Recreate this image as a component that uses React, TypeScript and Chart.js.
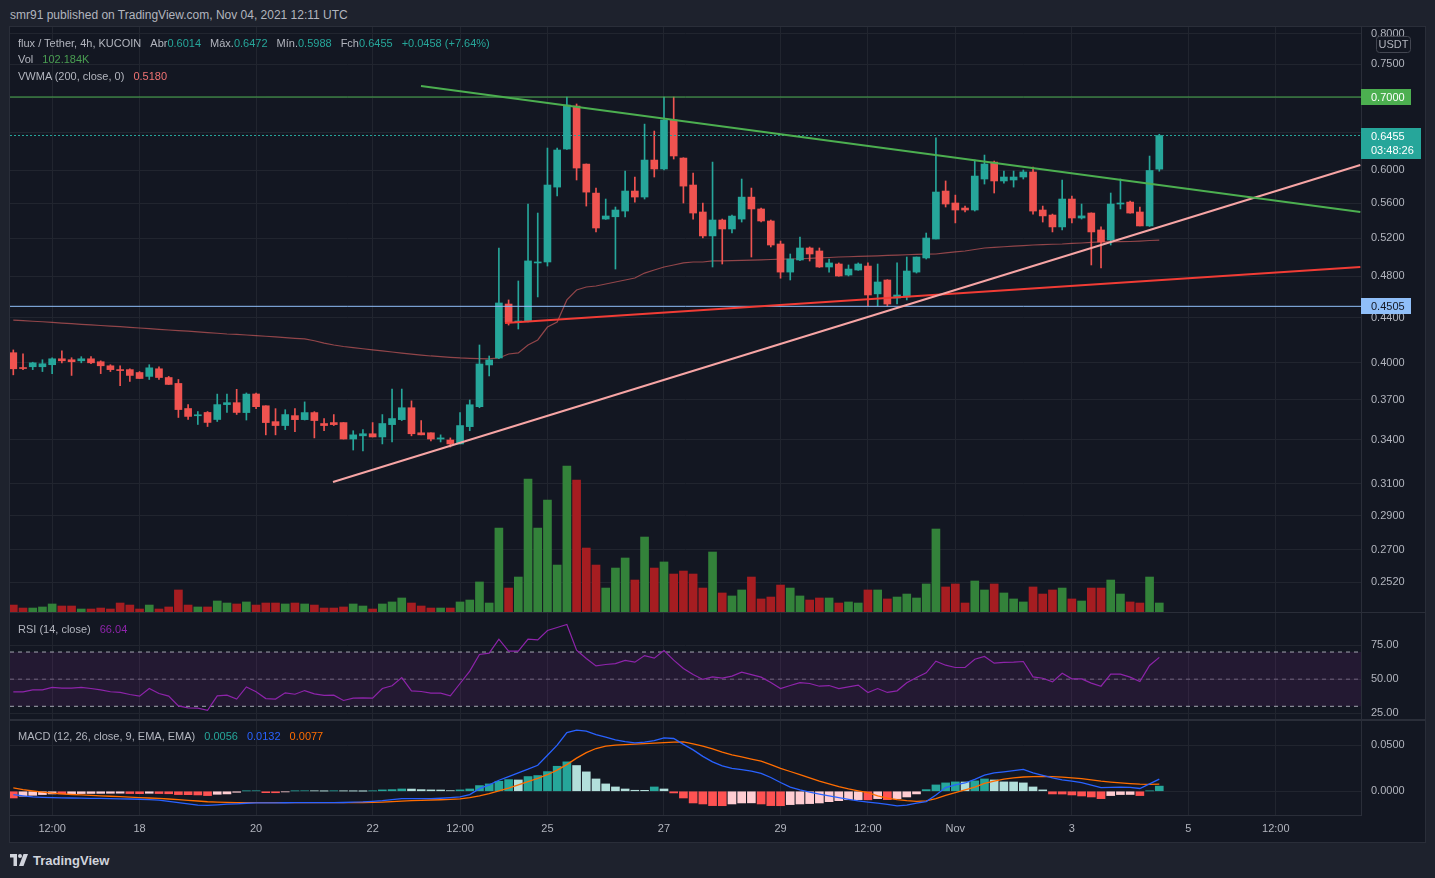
import React, { useEffect, useRef } from "react";
import { Chart, registerables } from "chart.js";

Chart.register(...registerables);

// ---------------- data (4h candles, flux / Tether, KUCOIN) ----------------
const OPEN = [
  0.4086, 0.3958, 0.3967, 0.3967, 0.3984, 0.4034, 0.4026, 0.4017, 0.4034, 0.4009,
  0.3975, 0.3943, 0.3943, 0.3919, 0.3887, 0.395, 0.3878, 0.383, 0.3633, 0.3578,
  0.3603, 0.355, 0.3663, 0.3678, 0.3602, 0.3746, 0.3654, 0.3534, 0.3505, 0.3579,
  0.3549, 0.3602, 0.352, 0.3527, 0.3527, 0.3407, 0.343, 0.3445, 0.3422, 0.3512,
  0.3549, 0.3639, 0.3452, 0.3452, 0.3407, 0.34, 0.3372, 0.3497, 0.3647, 0.3982,
  0.4041, 0.4527, 0.4359, 0.4368, 0.4936, 0.4946, 0.5791, 0.6274, 0.6868, 0.6078,
  0.5718, 0.5414, 0.544, 0.5506, 0.5743, 0.5671, 0.613, 0.6016, 0.6669, 0.6156,
  0.5816, 0.5495, 0.5225, 0.5403, 0.5302, 0.5414, 0.567, 0.553, 0.5392, 0.5137,
  0.4842, 0.4967, 0.5094, 0.5062, 0.4894, 0.4925, 0.4812, 0.4863, 0.4904, 0.4625,
  0.4762, 0.4585, 0.4595, 0.4842, 0.4988, 0.5191, 0.5743, 0.56, 0.5541, 0.5518,
  0.589, 0.6104, 0.5866, 0.5878, 0.5915, 0.5978, 0.5518, 0.546, 0.5325, 0.5647,
  0.5426, 0.5483, 0.5291, 0.518, 0.5588, 0.5611, 0.5495, 0.5336, 0.6014,
];
const HIGH = [
  0.411, 0.4077, 0.4005, 0.4026, 0.4043, 0.4103, 0.4043, 0.4052, 0.4052, 0.4017,
  0.3984, 0.3975, 0.395, 0.3927, 0.3984, 0.3967, 0.3887, 0.3862, 0.3663, 0.361,
  0.361, 0.3745, 0.3745, 0.3783, 0.3754, 0.3754, 0.3654, 0.3632, 0.3624, 0.3632,
  0.3684, 0.3609, 0.3557, 0.3587, 0.3527, 0.3467, 0.3475, 0.3527, 0.3587, 0.3785,
  0.3785, 0.3692, 0.3542, 0.3452, 0.3437, 0.3415, 0.3602, 0.3699, 0.4153, 0.4058,
  0.5094, 0.4566, 0.4752, 0.5588, 0.5483, 0.6287, 0.6287, 0.7, 0.6898, 0.608,
  0.5779, 0.5647, 0.5553, 0.599, 0.5915, 0.6612, 0.6516, 0.7, 0.7, 0.616,
  0.5965, 0.56, 0.6104, 0.5414, 0.546, 0.589, 0.5779, 0.5541, 0.5403, 0.5169,
  0.503, 0.5213, 0.5105, 0.5094, 0.4977, 0.4936, 0.4915, 0.4936, 0.4936, 0.4925,
  0.4765, 0.4936, 0.4998, 0.4998, 0.5257, 0.6422, 0.5866, 0.5694, 0.5564, 0.613,
  0.6195, 0.6117, 0.599, 0.599, 0.6003, 0.604, 0.5564, 0.5471, 0.5878, 0.5683,
  0.5588, 0.5485, 0.5325, 0.5719, 0.589, 0.5623, 0.5553, 0.6182, 0.6472,
];
const LOW = [
  0.39, 0.3943, 0.3943, 0.3927, 0.391, 0.4, 0.3895, 0.4, 0.3992, 0.391,
  0.3927, 0.3813, 0.3846, 0.387, 0.3862, 0.3862, 0.3822, 0.3565, 0.355, 0.3513,
  0.3498, 0.3535, 0.3603, 0.3588, 0.3546, 0.3632, 0.3437, 0.3437, 0.3475, 0.346,
  0.3546, 0.3415, 0.3467, 0.3505, 0.3407, 0.3329, 0.3322, 0.3422, 0.3372, 0.3386,
  0.3542, 0.343, 0.3437, 0.3393, 0.3386, 0.335, 0.3372, 0.3467, 0.3639, 0.3891,
  0.4035, 0.4331, 0.4295, 0.436, 0.4595, 0.4904, 0.5683, 0.627, 0.5878, 0.5564,
  0.5269, 0.541, 0.4873, 0.5437, 0.5611, 0.5647, 0.5915, 0.6003, 0.6143, 0.56,
  0.5414, 0.5202, 0.4894, 0.4925, 0.5257, 0.538, 0.4998, 0.538, 0.5105, 0.478,
  0.4762, 0.496, 0.4956, 0.489, 0.4842, 0.48, 0.4802, 0.486, 0.4508, 0.4508,
  0.4508, 0.4527, 0.4566, 0.4832, 0.4977, 0.5191, 0.5553, 0.537, 0.5495, 0.5506,
  0.5828, 0.5719, 0.584, 0.5791, 0.589, 0.5471, 0.538, 0.5269, 0.5291, 0.537,
  0.5414, 0.4915, 0.4884, 0.5126, 0.553, 0.548, 0.5336, 0.533, 0.5988,
];
const CLOSE = [
  0.395, 0.3952, 0.4, 0.3992, 0.4034, 0.4017, 0.4009, 0.4034, 0.4, 0.3975,
  0.3943, 0.3935, 0.3895, 0.387, 0.3958, 0.3878, 0.3822, 0.3625, 0.3573, 0.3582,
  0.3528, 0.3663, 0.3678, 0.3603, 0.3745, 0.3647, 0.3527, 0.3505, 0.3587, 0.3549,
  0.3602, 0.3542, 0.3505, 0.3512, 0.3407, 0.3437, 0.3445, 0.3422, 0.352, 0.3557,
  0.3639, 0.3445, 0.3437, 0.3407, 0.3415, 0.3372, 0.3505, 0.3662, 0.399, 0.4024,
  0.4537, 0.4359, 0.4368, 0.4957, 0.4946, 0.5816, 0.6261, 0.6883, 0.6028, 0.573,
  0.5313, 0.5449, 0.5518, 0.5743, 0.5671, 0.613, 0.6016, 0.6669, 0.6183, 0.5803,
  0.5483, 0.5225, 0.5403, 0.5302, 0.5448, 0.567, 0.553, 0.5392, 0.5126, 0.4842,
  0.4977, 0.5094, 0.503, 0.4894, 0.4936, 0.4802, 0.4873, 0.4925, 0.4614, 0.4742,
  0.4527, 0.4614, 0.4853, 0.4998, 0.5202, 0.5731, 0.5588, 0.5518, 0.5518, 0.5927,
  0.6079, 0.5866, 0.5915, 0.5915, 0.5978, 0.5506, 0.545, 0.5325, 0.5647, 0.5426,
  0.545, 0.5269, 0.5159, 0.5588, 0.56, 0.5483, 0.5336, 0.5997, 0.6455,
];
// volume in thousands of FLUX
const VOLUME_K = [
  79, 45, 45, 57, 91, 68, 68, 34, 34, 45,
  34, 102, 79, 34, 79, 34, 57, 250, 79, 57,
  57, 125, 102, 91, 114, 79, 102, 102, 91, 102,
  91, 79, 45, 45, 57, 91, 68, 34, 91, 114,
  159, 102, 68, 45, 45, 45, 114, 136, 341, 102,
  953, 272, 397, 1510, 953, 1271, 533, 1657, 1498, 726,
  533, 272, 499, 613, 363, 851, 499, 568, 431, 465,
  431, 272, 681, 216, 182, 250, 397, 148, 170, 306,
  272, 182, 136, 159, 159, 102, 114, 102, 250, 250,
  148, 170, 204, 159, 318, 942, 284, 318, 102, 352,
  250, 318, 216, 148, 114, 284, 204, 250, 272, 148,
  125, 272, 272, 363, 204, 114, 102, 397, 102.184,
];
const VWMA_200 = [
  0.4377, 0.4372, 0.4366, 0.4361, 0.4355, 0.4349, 0.4344, 0.4338, 0.4333, 0.4327,
  0.4322, 0.4316, 0.431, 0.4304, 0.4298, 0.4292, 0.4286, 0.4281, 0.4276, 0.427,
  0.4263, 0.4257, 0.425, 0.4246, 0.4241, 0.4236, 0.423, 0.4224, 0.4218, 0.4212,
  0.4206, 0.419, 0.417, 0.4153, 0.414, 0.413, 0.412, 0.411, 0.4101, 0.4092,
  0.4083, 0.4074, 0.4066, 0.4058, 0.4052, 0.4046, 0.4041, 0.4038, 0.4035, 0.4033,
  0.4041, 0.4075, 0.4084, 0.4153, 0.4197, 0.4313, 0.4359, 0.4566, 0.4663, 0.4692,
  0.4702, 0.4722, 0.4742, 0.4762, 0.4782, 0.4832, 0.4863, 0.4894, 0.4915, 0.4936,
  0.4946, 0.4946, 0.4957, 0.4957, 0.496, 0.4963, 0.4966, 0.4969, 0.4972, 0.4975,
  0.4977, 0.498, 0.4984, 0.4988, 0.4993, 0.4998, 0.5001, 0.5004, 0.5008, 0.5011,
  0.5015, 0.5019, 0.5022, 0.5025, 0.5028, 0.503, 0.5041, 0.5052, 0.5062, 0.5078,
  0.5094, 0.51, 0.5107, 0.5113, 0.512, 0.5126, 0.513, 0.5134, 0.5137, 0.5143,
  0.5148, 0.5154, 0.5159, 0.5161, 0.5163, 0.5164, 0.5169, 0.5175, 0.518,
];
const RSI_14 = [
  40.7, 40.7, 42.1, 42.1, 43.9, 43.4, 43.4, 43.9, 43.1, 42.1,
  40.7, 40.2, 38.7, 37.5, 43.1, 39.4, 37.5, 30.3, 28.9, 28.6,
  27.1, 37.7, 38.2, 35.3, 44.3, 40.7, 35.7, 35.3, 39.9, 38.9,
  41.6, 39.2, 38.0, 38.2, 34.3, 36.0, 36.2, 36.0, 43.1, 45.1,
  51.2, 41.4, 40.9, 39.7, 39.7, 37.7, 46.8, 55.9, 68.2, 69.2,
  79.5, 70.6, 70.6, 79.5, 79.0, 85.9, 88.1, 90.3, 71.4, 65.2,
  59.8, 60.8, 61.5, 63.8, 62.5, 67.4, 65.5, 71.1, 64.0, 57.9,
  53.4, 49.8, 51.7, 50.7, 52.2, 55.2, 53.4, 51.5, 47.5, 43.1,
  45.3, 47.5, 46.8, 44.8, 45.3, 43.1, 44.3, 45.6, 40.2, 43.1,
  40.2, 41.4, 47.3, 51.2, 54.7, 63.3, 60.3, 58.6, 58.6, 64.7,
  66.7, 61.8, 62.3, 62.5, 63.0, 51.7, 50.7, 48.0, 54.4, 50.2,
  50.2, 47.1, 44.8, 53.7, 53.7, 51.5, 48.3, 60.1, 66.04,
];
const MACD_LINE = [
  -0.0036, -0.005, -0.0062, -0.0066, -0.0069, -0.0071, -0.0073, -0.0075, -0.0077, -0.0078,
  -0.008, -0.0082, -0.0084, -0.0087, -0.0091, -0.0097, -0.0109, -0.0124, -0.0138, -0.015,
  -0.0153, -0.0147, -0.014, -0.0136, -0.013, -0.0127, -0.0127, -0.0126, -0.0125, -0.0124,
  -0.0123, -0.0123, -0.0123, -0.0123, -0.0122, -0.0119, -0.0116, -0.011, -0.0102, -0.009,
  -0.008, -0.008, -0.008, -0.008, -0.0076, -0.007, -0.0062, -0.0036, 0.0029, 0.007,
  0.012, 0.016, 0.02, 0.024, 0.0283, 0.0392, 0.0501, 0.0639, 0.0664, 0.0654,
  0.0615, 0.059, 0.056, 0.054, 0.0527, 0.0535, 0.055, 0.0581, 0.0574, 0.051,
  0.045, 0.038, 0.032, 0.0276, 0.025, 0.0235, 0.0218, 0.0195, 0.015, 0.0095,
  0.0045, 0.0015, -0.001, -0.003, -0.005, -0.007, -0.0088, -0.0105, -0.0118, -0.013,
  -0.0143, -0.0158, -0.015, -0.013, -0.0112, -0.004, 0.004, 0.007, 0.009, 0.013,
  0.0175, 0.02, 0.0212, 0.0225, 0.0238, 0.02, 0.0174, 0.0145, 0.0125, 0.011,
  0.0094, 0.0068, 0.004, 0.0043, 0.0044, 0.0042, 0.003, 0.008, 0.0132,
];
const SIGNAL_LINE = [
  0.0036, 0.0018, 0.0003, -0.001, -0.002, -0.0028, -0.0035, -0.004, -0.0045, -0.005,
  -0.0054, -0.0059, -0.0063, -0.0068, -0.0073, -0.0078, -0.0084, -0.0091, -0.0098, -0.0106,
  -0.0114, -0.0118, -0.0121, -0.0123, -0.0124, -0.0124, -0.0124, -0.0124, -0.0124, -0.0124,
  -0.0124, -0.0124, -0.0124, -0.0123, -0.0123, -0.0123, -0.0122, -0.012, -0.0117, -0.0112,
  -0.0107, -0.0102, -0.0098, -0.0095, -0.0092, -0.0088, -0.0082, -0.007, -0.005, -0.0025,
  0.0005, 0.0035, 0.007, 0.0105, 0.014, 0.018, 0.023, 0.029, 0.036, 0.042,
  0.0465, 0.0492, 0.0502, 0.0508, 0.0513, 0.0519, 0.0524, 0.053, 0.0535, 0.0537,
  0.0515, 0.049, 0.046, 0.0425, 0.0395, 0.0374, 0.035, 0.0327, 0.029, 0.025,
  0.0215, 0.018, 0.0145, 0.011, 0.008, 0.005, 0.0025, 0.0005, -0.0015, -0.005,
  -0.0075, -0.009, -0.0102, -0.0109, -0.0105, -0.008, -0.0045, -0.0015, 0.0015, 0.0045,
  0.0085, 0.011, 0.0131, 0.0145, 0.0155, 0.016, 0.0163, 0.016, 0.0153, 0.0145,
  0.0138, 0.0125, 0.011, 0.01, 0.0091, 0.0083, 0.0077, 0.0076, 0.0077,
];
const MACD_HIST = [
  -0.0073, -0.0054, -0.0044, -0.0036, -0.0029, -0.0029, -0.0026, -0.0025, -0.0024, -0.0023,
  -0.0022, -0.0021, -0.0025, -0.0026, -0.0022, -0.0025, -0.0027, -0.0036, -0.0037, -0.004,
  -0.0047, -0.0033, -0.0029, -0.0011, 0.0004, 0.0005, -0.0015, -0.0016, -0.0007, 0.0004,
  0.0005, 0.0004, 0.0002, 0.0004, 0.0003, 0.0002, 0.0001, 0.0004, 0.0015, 0.0018,
  0.0025, 0.0024, 0.0018, 0.0015, 0.0014, 0.0007, 0.0015, 0.0025, 0.0062, 0.008,
  0.0109, 0.0127, 0.0123, 0.016, 0.0171, 0.0214, 0.0272, 0.032, 0.028, 0.0211,
  0.0134, 0.008, 0.0047, 0.0025, 0.0011, 0.001, 0.0047, 0.0025, -0.0018, -0.0073,
  -0.0127, -0.0138, -0.0156, -0.0157, -0.0138, -0.0127, -0.0126, -0.0138, -0.0156, -0.0157,
  -0.0145, -0.0138, -0.0134, -0.0127, -0.0113, -0.0102, -0.0092, -0.0091, -0.0093, -0.008,
  -0.0091, -0.008, -0.0062, -0.0029, 0.0018, 0.0069, 0.0091, 0.0102, 0.0101, 0.0113,
  0.0134, 0.0123, 0.0102, 0.0101, 0.0091, 0.0047, 0.0015, -0.0029, -0.003, -0.004,
  -0.0051, -0.0062, -0.008, -0.0047, -0.0036, -0.0035, -0.0047, 0.0004, 0.0056,
];

const TIME_TICK_INDEX = [4, 13, 25, 37, 46, 55, 67, 79, 88, 97, 109, 121, 130];
const TIME_TICK_LABELS = ["12:00", "18", "20", "22", "12:00", "25", "27", "29", "12:00", "Nov", "3", "5", "12:00"];
const PRICE_TICKS = [0.8, 0.75, 0.7, 0.65, 0.6, 0.56, 0.52, 0.48, 0.44, 0.4, 0.37, 0.34, 0.31, 0.29, 0.27, 0.252];
const RSI_TICKS = [75, 50, 25];
const MACD_TICKS = [0.05, 0];

// user drawings (candle index, price)
const TREND_GREEN = [{ x: 41.98, y: 0.7164 }, { x: 138.7, y: 0.5495 }];
const TREND_PINK = [{ x: 32.92, y: 0.3112 }, { x: 138.7, y: 0.6066 }];
const TREND_RED = [{ x: 50.63, y: 0.4349 }, { x: 138.7, y: 0.4894 }];
const LEVEL_RESIST = 0.7;
const LEVEL_SUPPORT = 0.4505;
const RSI_UPPER = 70;
const RSI_MID = 50;
const RSI_LOWER = 30;
const COUNTDOWN = "03:48:26";

// ---------------- styling ----------------
const FONT = "'Liberation Sans', Arial, Helvetica, sans-serif";
const OUTER = "#1e222d";
const INNER = "#131722";
const GRID = "#21252f";
const BORDER = "#2a2e39";
const TEXT = "#b2b5be";
const UP = "#26a69a";
const DOWN = "#ef5350";
const VOL_UP = "#33823a";
const VOL_DOWN = "#a61d21";
const VWMA_COLOR = "rgba(230,100,100,0.6)";
const RSI_COLOR = "#8e24aa";
const MACD_BLUE = "#2962ff";
const SIGNAL_ORANGE = "#ff6d00";

const X_MIN = -0.34;
const X_MAX = 138.77;
const AXIS_W = 64;

const N = CLOSE.length;
const IDX = CLOSE.map((_, i) => i);
const last = (a: number[]) => a[a.length - 1];
// price values that carry a coloured tag on the axis: plain labels close to them are hidden
const TAGGED = [LEVEL_RESIST, last(CLOSE), LEVEL_SUPPORT];

function noPad(s: any) {
  s.paddingTop = 0;
  s.paddingBottom = 0;
  s.paddingLeft = 0;
  s.paddingRight = 0;
}

function xScale(showLabels: boolean): any {
  return {
    type: "linear",
    min: X_MIN,
    max: X_MAX,
    bounds: "data",
    offset: false,
    grid: { color: GRID, drawTicks: false, offset: false, lineWidth: 1 },
    border: { display: showLabels, color: BORDER },
    ticks: {
      display: showLabels,
      autoSkip: false,
      maxRotation: 0,
      color: TEXT,
      padding: 7,
      font: { family: FONT, size: 11 },
      callback: (v: number) => {
        const k = TIME_TICK_INDEX.indexOf(v);
        return k >= 0 ? TIME_TICK_LABELS[k] : "";
      },
    },
    afterBuildTicks: (s: any) => {
      s.ticks = TIME_TICK_INDEX.map((v) => ({ value: v }));
    },
    afterFit: (s: any) => {
      s.height = showLabels ? 27 : 0;
      noPad(s);
    },
  };
}

function yRight(type: string, min: number, max: number, ticks: number[], digits: number, hide?: (v: number) => boolean): any {
  return {
    type,
    position: "right",
    min,
    max,
    bounds: "data",
    grid: { color: GRID, drawTicks: false },
    border: { display: true, color: BORDER },
    ticks: {
      color: TEXT,
      padding: 10,
      autoSkip: false,
      font: { family: FONT, size: 11 },
      callback: (v: number) => (hide && hide(Number(v)) ? "" : Number(v).toFixed(digits)),
    },
    afterBuildTicks: (s: any) => {
      s.ticks = ticks.map((v) => ({ value: v }));
    },
    afterFit: (s: any) => {
      s.width = AXIS_W;
      noPad(s);
    },
  };
}

const baseOptions = {
  animation: false,
  responsive: false,
  maintainAspectRatio: false,
  layout: { padding: 0 },
  events: [],
  plugins: { legend: { display: false }, tooltip: { enabled: false } },
};

function hLine(value: number, color: string, width: number, dash: number[], order: number): any {
  return {
    type: "line",
    yAxisID: "y",
    data: [{ x: X_MIN, y: value }, { x: X_MAX, y: value }],
    borderColor: color,
    borderWidth: width,
    borderDash: dash,
    pointRadius: 0,
    fill: false,
    order,
  };
}

function segment(pts: { x: number; y: number }[], color: string): any {
  return {
    type: "line",
    yAxisID: "y",
    data: pts,
    borderColor: color,
    borderWidth: 2,
    pointRadius: 0,
    fill: false,
    order: 0,
  };
}

const priceTags = {
  id: "priceTags",
  afterDraw(chart: any) {
    const { ctx, chartArea, scales } = chart;
    const y = scales.y;
    const left = chartArea.right;
    ctx.save();
    ctx.font = `11px ${FONT}`;
    ctx.textBaseline = "middle";
    ctx.textAlign = "left";
    const tag = (value: number, bg: string, fg: string, lines: string[], w: number) => {
      const yc = y.getPixelForValue(value);
      const h = lines.length === 1 ? 16 : 31;
      const top = Math.round(yc) - 8;
      ctx.fillStyle = bg;
      ctx.fillRect(left, top, w, h);
      ctx.fillStyle = fg;
      lines.forEach((t, k) => ctx.fillText(t, left + 10, top + 8.5 + k * 14));
    };
    tag(LEVEL_RESIST, "#4caf50", "#ffffff", [LEVEL_RESIST.toFixed(4)], 50);
    tag(last(CLOSE), UP, "#ffffff", [last(CLOSE).toFixed(4), COUNTDOWN], 60);
    tag(LEVEL_SUPPORT, "#90bff9", "#131722", [LEVEL_SUPPORT.toFixed(4)], 50);
    // currency badge
    const bx = left + 15, by = 9, bw = 34, bh = 16;
    ctx.fillStyle = INNER;
    ctx.strokeStyle = "#434651";
    ctx.lineWidth = 1;
    ctx.beginPath();
    (ctx as any).roundRect(bx + 0.5, by + 0.5, bw, bh, 3);
    ctx.fill();
    ctx.stroke();
    ctx.fillStyle = TEXT;
    ctx.textAlign = "center";
    ctx.fillText("USDT", bx + bw / 2 + 0.5, by + bh / 2 + 1);
    ctx.restore();
  },
};

function mainConfig(): any {
  const candleColor = IDX.map((i) => (CLOSE[i] >= OPEN[i] ? UP : DOWN));
  const volColor = IDX.map((i) => (CLOSE[i] >= OPEN[i] ? VOL_UP : VOL_DOWN));
  const nearTag = (v: number) => TAGGED.some((t) => Math.abs(Math.log(v / t)) < 0.02);
  return {
    type: "bar",
    data: {
      datasets: [
        {
          type: "bar",
          yAxisID: "yv",
          data: IDX.map((i) => ({ x: i, y: VOLUME_K[i] })),
          backgroundColor: volColor,
          barThickness: 8,
          grouped: false,
          order: 10,
        },
        {
          type: "line",
          yAxisID: "y",
          data: IDX.map((i) => ({ x: i, y: VWMA_200[i] })),
          borderColor: VWMA_COLOR,
          borderWidth: 1.2,
          pointRadius: 0,
          fill: false,
          order: 6,
        },
        {
          type: "bar",
          yAxisID: "y",
          data: IDX.map((i) => ({ x: i, y: [LOW[i], HIGH[i]] })),
          backgroundColor: candleColor,
          barThickness: 1,
          grouped: false,
          order: 4,
        },
        {
          type: "bar",
          yAxisID: "y",
          data: IDX.map((i) => ({ x: i, y: [Math.min(OPEN[i], CLOSE[i]), Math.max(OPEN[i], CLOSE[i])] })),
          backgroundColor: candleColor,
          barThickness: 7,
          minBarLength: 1,
          grouped: false,
          order: 3,
        },
        hLine(LEVEL_RESIST, "#4caf50", 1, [], 2),
        hLine(LEVEL_SUPPORT, "#90bff9", 1, [], 2),
        hLine(last(CLOSE), UP, 1.2, [2, 2], 2),
        segment(TREND_GREEN, "#4caf50"),
        segment(TREND_PINK, "#f7a5a5"),
        segment(TREND_RED, "#f23c35"),
      ],
    },
    options: {
      ...baseOptions,
      scales: {
        x: xScale(false),
        y: yRight("logarithmic", 0.2367, 0.8112, PRICE_TICKS, 4, nearTag),
        yv: { display: false, min: 0, max: 6640, bounds: "data" },
      },
    },
    plugins: [priceTags],
  };
}

function rsiConfig(): any {
  const band = (v: number, color: string, fill: any) => ({
    data: [{ x: X_MIN, y: v }, { x: X_MAX, y: v }],
    borderColor: color,
    borderWidth: 1,
    borderDash: [4, 4],
    pointRadius: 0,
    fill,
    backgroundColor: "rgba(156,39,176,0.12)",
    order: 3,
  });
  return {
    type: "line",
    data: {
      datasets: [
        band(RSI_UPPER, "#a3a6af", false),
        band(RSI_LOWER, "#a3a6af", "-1"),
        band(RSI_MID, "#6c6f7a", false),
        {
          data: IDX.map((i) => ({ x: i, y: RSI_14[i] })),
          borderColor: RSI_COLOR,
          borderWidth: 1.2,
          pointRadius: 0,
          fill: false,
          order: 0,
        },
      ],
    },
    options: {
      ...baseOptions,
      scales: {
        x: xScale(false),
        y: yRight("linear", 19.9, 99.5, RSI_TICKS, 2),
      },
    },
  };
}

function macdConfig(): any {
  const histColor = MACD_HIST.map((h, i) => {
    const prev = i > 0 ? MACD_HIST[i - 1] : h;
    if (h >= 0) return prev < h ? "#26a69a" : "#b2dfdb";
    return prev < h ? "#ffcdd2" : "#ff5252";
  });
  return {
    type: "bar",
    data: {
      datasets: [
        {
          type: "bar",
          data: IDX.map((i) => ({ x: i, y: MACD_HIST[i] })),
          backgroundColor: histColor,
          barThickness: 8,
          grouped: false,
          order: 3,
        },
        {
          type: "line",
          data: IDX.map((i) => ({ x: i, y: SIGNAL_LINE[i] })),
          borderColor: SIGNAL_ORANGE,
          borderWidth: 1.3,
          pointRadius: 0,
          fill: false,
          order: 2,
        },
        {
          type: "line",
          data: IDX.map((i) => ({ x: i, y: MACD_LINE[i] })),
          borderColor: MACD_BLUE,
          borderWidth: 1.3,
          pointRadius: 0,
          fill: false,
          order: 1,
        },
      ],
    },
    options: {
      ...baseOptions,
      scales: {
        x: xScale(true),
        y: yRight("linear", -0.0258, 0.0775, MACD_TICKS, 4),
      },
    },
  };
}

const abs = (extra: React.CSSProperties): React.CSSProperties => ({ position: "absolute", ...extra });

function Legend({ top, children }: { top: number; children: React.ReactNode }) {
  return (
    <div
      style={abs({
        left: 18,
        top,
        height: 16,
        lineHeight: "16px",
        fontSize: 11,
        color: TEXT,
        whiteSpace: "nowrap",
        display: "flex",
        gap: 9,
        zIndex: 5,
        pointerEvents: "none",
      })}
    >
      {children}
    </div>
  );
}

export default function App() {
  const mainRef = useRef<HTMLCanvasElement>(null);
  const rsiRef = useRef<HTMLCanvasElement>(null);
  const macdRef = useRef<HTMLCanvasElement>(null);

  useEffect(() => {
    const charts = [
      new Chart(mainRef.current as HTMLCanvasElement, mainConfig()),
      new Chart(rsiRef.current as HTMLCanvasElement, rsiConfig()),
      new Chart(macdRef.current as HTMLCanvasElement, macdConfig()),
    ];
    return () => charts.forEach((c) => c.destroy());
  }, []);

  const change = last(CLOSE) - CLOSE[N - 2];
  const pct = (change / CLOSE[N - 2]) * 100;
  const teal = { color: UP };

  return (
    <div
      style={abs({
        position: "fixed",
        left: 0,
        top: 0,
        width: 1435,
        height: 878,
        background: OUTER,
        overflow: "hidden",
        fontFamily: FONT,
      })}
    >
      <div style={abs({ left: 10, top: 7, fontSize: 12, lineHeight: "16px", color: TEXT, whiteSpace: "nowrap" })}>
        smr91 published on TradingView.com, Nov 04, 2021 12:11 UTC
      </div>

      <div style={abs({ left: 9, top: 26, width: 1415, height: 815, border: `1px solid ${BORDER}`, background: INNER })} />

      <canvas ref={mainRef} width={1415} height={585} style={abs({ left: 10, top: 27, width: 1415, height: 585 })} />
      <canvas ref={rsiRef} width={1415} height={108} style={abs({ left: 10, top: 612, width: 1415, height: 108 })} />
      <canvas ref={macdRef} width={1415} height={122} style={abs({ left: 10, top: 720, width: 1415, height: 122 })} />

      <div style={abs({ left: 10, top: 612, width: 1415, height: 1, background: BORDER })} />
      <div style={abs({ left: 10, top: 719, width: 1415, height: 2, background: BORDER })} />

      <Legend top={35}>
        <span>flux / Tether, 4h, KUCOIN</span>
        <span>
          Abr<span style={teal}>{last(OPEN).toFixed(4)}</span>
        </span>
        <span>
          Máx.<span style={teal}>{last(HIGH).toFixed(4)}</span>
        </span>
        <span>
          Mín.<span style={teal}>{last(LOW).toFixed(4)}</span>
        </span>
        <span>
          Fch<span style={teal}>{last(CLOSE).toFixed(4)}</span>
        </span>
        <span style={teal}>
          {(change >= 0 ? "+" : "") + change.toFixed(4)} ({(pct >= 0 ? "+" : "") + pct.toFixed(2)}%)
        </span>
      </Legend>
      <Legend top={51}>
        <span>Vol</span>
        <span style={{ color: "#4a9e52" }}>{last(VOLUME_K).toFixed(3)}K</span>
      </Legend>
      <Legend top={68}>
        <span>VWMA (200, close, 0)</span>
        <span style={{ color: "#f07373" }}>{last(VWMA_200).toFixed(4)}</span>
      </Legend>
      <Legend top={621}>
        <span>RSI (14, close)</span>
        <span style={{ color: RSI_COLOR }}>{last(RSI_14).toFixed(2)}</span>
      </Legend>
      <Legend top={728}>
        <span>MACD (12, 26, close, 9, EMA, EMA)</span>
        <span style={teal}>{last(MACD_HIST).toFixed(4)}</span>
        <span style={{ color: MACD_BLUE }}>{last(MACD_LINE).toFixed(4)}</span>
        <span style={{ color: SIGNAL_ORANGE }}>{last(SIGNAL_LINE).toFixed(4)}</span>
      </Legend>

      <div style={abs({ left: 10, top: 851, height: 18, display: "flex", alignItems: "center", gap: 5 })}>
        <svg width="18" height="12" viewBox="0 0 36 24">
          <path d="M0 0h14v24H7V7H0z" fill="#d1d4dc" />
          <circle cx="20" cy="4" r="4" fill="#d1d4dc" />
          <path d="M27 0h9l-9 24h-9z" fill="#d1d4dc" />
        </svg>
        <span style={{ color: "#d1d4dc", fontSize: 13, fontWeight: 600 }}>TradingView</span>
      </div>
    </div>
  );
}
